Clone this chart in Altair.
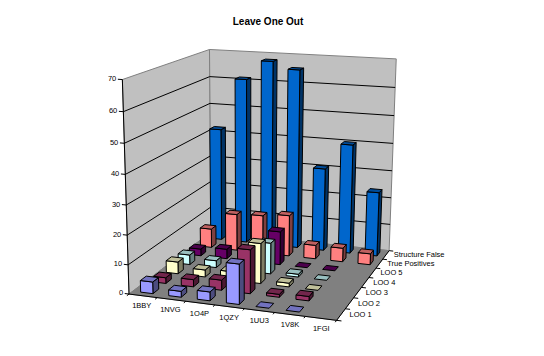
import altair as alt
import numpy as np
import pandas as pd

# ---- chart values (None = no bar drawn) ----
categories = ["1BBY", "1NVG", "1O4P", "1QZY", "1UU3", "1V8K", "1FGI"]
series = ["LOO 1", "LOO 2", "LOO 3", "LOO 4", "LOO 5", "True Positives", "Structure False"]
loo1 = [4, 2, 3, 13.5, 0, 0, None]
loo2 = [2, 2.5, 3.5, 15, 1, 1.5, None]
loo3 = [4.2, 2.5, 3, 14, 1.3, 0, None]
loo4 = [3.5, 2.5, 1, 11, 1, 0, None]
loo5 = [2.5, 3.5, 1, 12, 0, 0, None]
true_pos = [7, 13.5, 14, 15, 5, 5, 4]
struct_false = [42, 61, 68, 65.5, 30.5, 40, 23.5]
series_values = [loo1, loo2, loo3, loo4, loo5, true_pos, struct_false]
series_colors = ["#9999FF", "#993366", "#FFFFCC", "#CCFFFF", "#660066", "#FF8080", "#0066CC"]
value_ticks = [0, 10, 20, 30, 40, 50, 60, 70]
z_max = 70
bar_frac = 0.44
depth_frac = 0.44

# ---- projection of the 3-D box onto the page, fitted to the box corners ----
box = [((0, 0, 0), (129, 293)), ((1, 0, 0), (337, 321)), ((1, 1, 0), (389, 250)),
       ((0, 1, 0), (211, 233)), ((0, 0, 1), (122, 80)), ((0, 1, 1), (210, 49)),
       ((1, 1, 1), (396, 59))]
A = []
b = []
for (u, v, w), (sx, sy) in box:
    A.append([u, v, w, 1, 0, 0, 0, 0, -sx*u, -sx*v, -sx*w]); b.append(sx)
    A.append([0, 0, 0, 0, u, v, w, 1, -sy*u, -sy*v, -sy*w]); b.append(sy)
p = np.linalg.lstsq(np.array(A, float), np.array(b, float), rcond=None)[0]


def proj(u, v, w):
    d = p[8]*u + p[9]*v + p[10]*w + 1
    return (p[0]*u + p[1]*v + p[2]*w + p[3]) / d, (p[4]*u + p[5]*v + p[6]*w + p[7]) / d


def shade(c, f):
    r, g, bb = int(c[1:3], 16), int(c[3:5], 16), int(c[5:7], 16)
    return "#%02x%02x%02x" % (int(r*f), int(g*f), int(bb*f))


rows = []
pid = 0


def poly(pts, fill, stroke="#000000"):
    global pid
    pts = list(pts) + [pts[0]]
    for i, q in enumerate(pts):
        x, y = proj(*q)
        rows.append(dict(id=pid, i=i, x=x, y=y, fill=fill, stroke=stroke))
    pid += 1


# walls + floor
poly([(0, 0, 0), (0, 1, 0), (0, 1, 1), (0, 0, 1)], "#C0C0C0", "#808080")
poly([(0, 1, 0), (1, 1, 0), (1, 1, 1), (0, 1, 1)], "#C0C0C0", "#808080")
walls = pd.DataFrame(rows)
rows = []
poly([(0, 0, 0), (1, 0, 0), (1, 1, 0), (0, 1, 0)], "#808080", "#808080")
floor = pd.DataFrame(rows)
rows = []

# bars, painted from back to front and from left to right
nc, ns = len(categories), len(series)
for s in reversed(range(ns)):
    for c in range(nc):
        val = series_values[s][c]
        if val is None:
            continue
        h = val / z_max
        col = series_colors[s]
        du = (1 - bar_frac) / 2 / nc
        dv = (1 - depth_frac) / 2 / ns
        u0, u1 = c / nc + du, (c + 1) / nc - du
        v0, v1 = s / ns + dv, (s + 1) / ns - dv
        if h > 0:
            poly([(u1, v0, 0), (u1, v1, 0), (u1, v1, h), (u1, v0, h)], shade(col, 0.5))
            poly([(u0, v0, 0), (u1, v0, 0), (u1, v0, h), (u0, v0, h)], col)
        poly([(u0, v0, h), (u1, v0, h), (u1, v1, h), (u0, v1, h)], shade(col, 0.75))
bars = pd.DataFrame(rows)

# grid lines and axes
glines = []
gid = 0


def seg(pts):
    global gid
    for i, q in enumerate(pts):
        x, y = proj(*q)
        glines.append(dict(id=gid, i=i, x=x, y=y))
    gid += 1


for t in value_ticks[1:-1]:
    w = t / z_max
    seg([(0, 0, w), (0, 1, w), (1, 1, w)])
grid = pd.DataFrame(glines)
glines = []
seg([(0, 0, 0), (0, 0, 1)])
seg([(0, 0, 0), (1, 0, 0), (1, 1, 0)])
tl = 0.022
for t in value_ticks:
    seg([(0, 0, t / z_max), (-tl, 0, t / z_max)])
for c in range(nc + 1):
    seg([(c / nc, 0, 0), (c / nc, -tl, 0)])
for s in range(ns + 1):
    seg([(1, s / ns, 0), (1 + tl, s / ns, 0)])
axes = pd.DataFrame(glines)

labels = []
for t in value_ticks:
    x, y = proj(-0.025, 0, t / z_max)
    labels.append(dict(x=x - 1, y=y, text=str(t), align="right"))
for c, name in enumerate(categories):
    x, y = proj((c + 0.5) / nc, -0.055, 0)
    labels.append(dict(x=x + 4, y=y + 6.5, text=name, align="center"))
for s, name in enumerate(series):
    x, y = proj(1.03, (s + 0.5) / ns, 0)
    labels.append(dict(x=x + 2, y=y, text=name, align="left"))
labels = pd.DataFrame(labels)

# ---- page-pixel scales ----
top = 30
W, H = 528, 310
xs = alt.Scale(domain=[8, 8 + W], range=[0, W], nice=False, zero=False)
ys = alt.Scale(domain=[8 + top, 8 + top + H], range=[0, H], nice=False, zero=False)
X = alt.X("x:Q", scale=xs, axis=None)
Y = alt.Y("y:Q", scale=ys, axis=None)


def polygons(df):
    return alt.Chart(df).mark_line(interpolate="linear", strokeWidth=1, strokeJoin="miter").encode(
        x=X, y=Y, detail="id:N", order="i:Q",
        fill=alt.Fill("fill:N", scale=None),
        stroke=alt.Stroke("stroke:N", scale=None),
    )


def lines(df):
    return alt.Chart(df).mark_line(color="black", strokeWidth=1).encode(
        x=X, y=Y, detail="id:N", order="i:Q")


def text_layer(al):
    return alt.Chart(labels[labels["align"] == al]).mark_text(
        font="Liberation Sans", fontSize=7.5, color="black", baseline="middle", align=al
    ).encode(x=X, y=Y, text="text:N")


chart = alt.layer(
    polygons(walls), lines(grid), polygons(floor), lines(axes), polygons(bars),
    text_layer("right"), text_layer("center"), text_layer("left"),
).properties(
    width=W, height=H,
    padding={"left": 0, "right": 0, "top": top, "bottom": 0},
    autosize=alt.AutoSizeParams(type="none"),
    title=alt.TitleParams("Leave One Out", font="Liberation Sans", fontSize=10, fontWeight="bold",
                          anchor="middle", dx=-4, offset=11, color="black"),
).configure_view(stroke=None)

chart.save("out.html", embed_options={"renderer": "svg", "actions": False})
